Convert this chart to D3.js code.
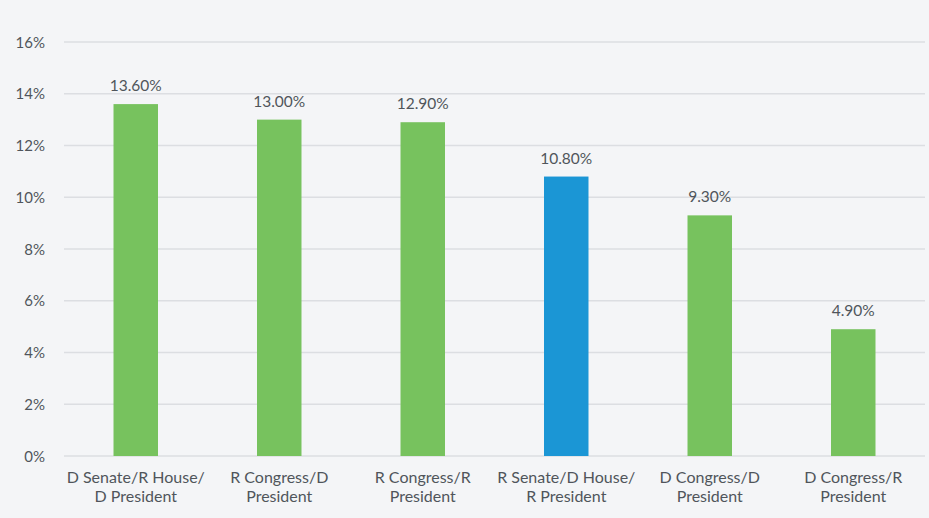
<!DOCTYPE html>
<html>
<head>
<meta charset="utf-8">
<script src="https://cdn.jsdelivr.net/npm/d3@7"></script>
<style>
  html, body { margin: 0; padding: 0; background: #f4f5f7; }
  svg text { font-family: Lato, "Open Sans", sans-serif; fill: #50555b; }
</style>
</head>
<body>
<svg id="chart" width="929" height="518"></svg>
<script>
// data
const categories = [
  ['D Senate/R House/', 'D President'],
  ['R Congress/D', 'President'],
  ['R Congress/R', 'President'],
  ['R Senate/D House/', 'R President'],
  ['D Congress/D', 'President'],
  ['D Congress/R', 'President']
];
const values = [13.6, 13.0, 12.9, 10.8, 9.3, 4.9];
const highlight = [false, false, false, true, false, false];
const yTicks = [0, 2, 4, 6, 8, 10, 12, 14, 16];

const svg = d3.select('#chart');
const margin = { top: 42, right: 4, bottom: 62, left: 64 };
const width = 929 - margin.left - margin.right;
const height = 518 - margin.top - margin.bottom;

const g = svg.append('g').attr('transform', `translate(${margin.left},${margin.top})`);

const x = d3.scaleBand()
  .domain(d3.range(categories.length))
  .range([0, width])
  .paddingInner(0.69)
  .paddingOuter(0.345);

const y = d3.scaleLinear().domain([0, 16]).range([height, 0]);

// gridlines
g.selectAll('.grid')
  .data(yTicks)
  .join('line')
  .attr('class', 'grid')
  .attr('x1', 0)
  .attr('x2', width)
  .attr('y1', d => y(d))
  .attr('y2', d => y(d))
  .attr('stroke', '#dcdee2')
  .attr('stroke-width', 1.5);

// y labels
g.selectAll('.ylab')
  .data(yTicks)
  .join('text')
  .attr('class', 'ylab')
  .attr('x', -19)
  .attr('y', d => y(d))
  .attr('dy', '0.38em')
  .attr('text-anchor', 'end')
  .attr('font-size', 15)
  .text(d => d + '%');

// bars
g.selectAll('.bar')
  .data(values)
  .join('rect')
  .attr('class', 'bar')
  .attr('x', (d, i) => x(i))
  .attr('y', d => y(d))
  .attr('width', x.bandwidth())
  .attr('height', d => height - y(d))
  .attr('fill', (d, i) => highlight[i] ? '#1b96d5' : '#77c25e');

// value labels
g.selectAll('.val')
  .data(values)
  .join('text')
  .attr('class', 'val')
  .attr('x', (d, i) => x(i) + x.bandwidth() / 2)
  .attr('y', d => y(d) - 13)
  .attr('text-anchor', 'middle')
  .attr('font-size', 15.5)
  .text(d => d.toFixed(2) + '%');

// category labels
const cat = g.selectAll('.cat')
  .data(categories)
  .join('text')
  .attr('class', 'cat')
  .attr('text-anchor', 'middle')
  .attr('font-size', 16)
  .attr('transform', (d, i) => `translate(${x(i) + x.bandwidth() / 2},${height + 27})`);

cat.selectAll('tspan')
  .data(d => d)
  .join('tspan')
  .attr('x', 0)
  .attr('dy', (d, i) => i === 0 ? 0 : 19)
  .text(d => d);
</script>
</body>
</html>
